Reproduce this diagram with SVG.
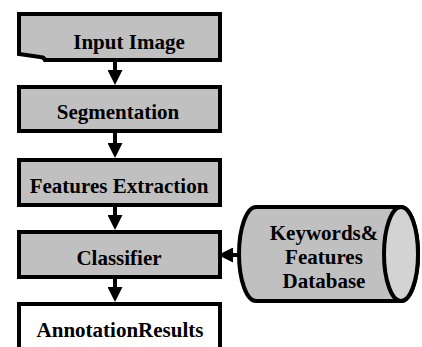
<svg xmlns="http://www.w3.org/2000/svg" width="422" height="347" viewBox="0 0 422 347">
<style>
.box{fill:#c0c0c0;stroke:#000;stroke-width:4}
.white{fill:#fff;stroke:#000;stroke-width:4}
.face{fill:#d3d3d3;stroke:#000;stroke-width:4}
.lbl{font-family:'Liberation Serif','Times New Roman','DejaVu Serif',serif;font-weight:bold;font-size:21px;fill:#000;text-anchor:middle}
.conn{stroke:#000;stroke-width:4;fill:none}
</style>
<defs>
<marker id="ah" viewBox="0 0 15 15" refX="0" refY="7.5" markerWidth="15" markerHeight="15" markerUnits="userSpaceOnUse" orient="auto">
<path d="M0,0 L15,7.5 L0,15 Z" fill="#000"/>
</marker>
</defs>
<rect width="422" height="347" fill="#fff"/>
<g id="input">
<path class="box" d="M19,14 H220 V60 H45 C44,57 42,57 40,57 L19,54 Z"/>
<text class="lbl" x="129" y="49" font-family="Liberation Serif, serif">Input Image</text>
</g>
<g id="segmentation">
<rect class="box" x="19" y="87" width="201" height="44"/>
<text class="lbl" x="118" y="119">Segmentation</text>
</g>
<g id="features">
<rect class="box" x="19" y="160" width="201" height="45"/>
<text class="lbl" x="119" y="193">Features Extraction</text>
</g>
<g id="classifier">
<rect class="box" x="19" y="232" width="201" height="45"/>
<text class="lbl" x="119" y="265">Classifier</text>
</g>
<g id="results">
<rect class="white" x="19" y="304" width="201" height="60"/>
<text class="lbl" x="120" y="337">AnnotationResults</text>
</g>
<g id="database">
<path class="box" d="M256,207 H401 A17,47 0 0 1 401,301 H256 A17,47 0 0 1 256,207 Z"/>
<ellipse class="face" cx="401" cy="254" rx="17" ry="47"/>
<text class="lbl" x="324" y="240">Keywords&amp;</text>
<text class="lbl" x="324" y="264">Features</text>
<text class="lbl" x="324" y="288">Database</text>
</g>
<g id="connectors">
<line class="conn" x1="115" y1="62" x2="115" y2="70" marker-end="url(#ah)"/>
<line class="conn" x1="115" y1="133" x2="115" y2="143" marker-end="url(#ah)"/>
<line class="conn" x1="115" y1="207" x2="115" y2="215" marker-end="url(#ah)"/>
<line class="conn" x1="115" y1="279" x2="115" y2="287" marker-end="url(#ah)"/>
<line class="conn" x1="238" y1="255" x2="233" y2="255" marker-end="url(#ah)"/>
</g>
</svg>
